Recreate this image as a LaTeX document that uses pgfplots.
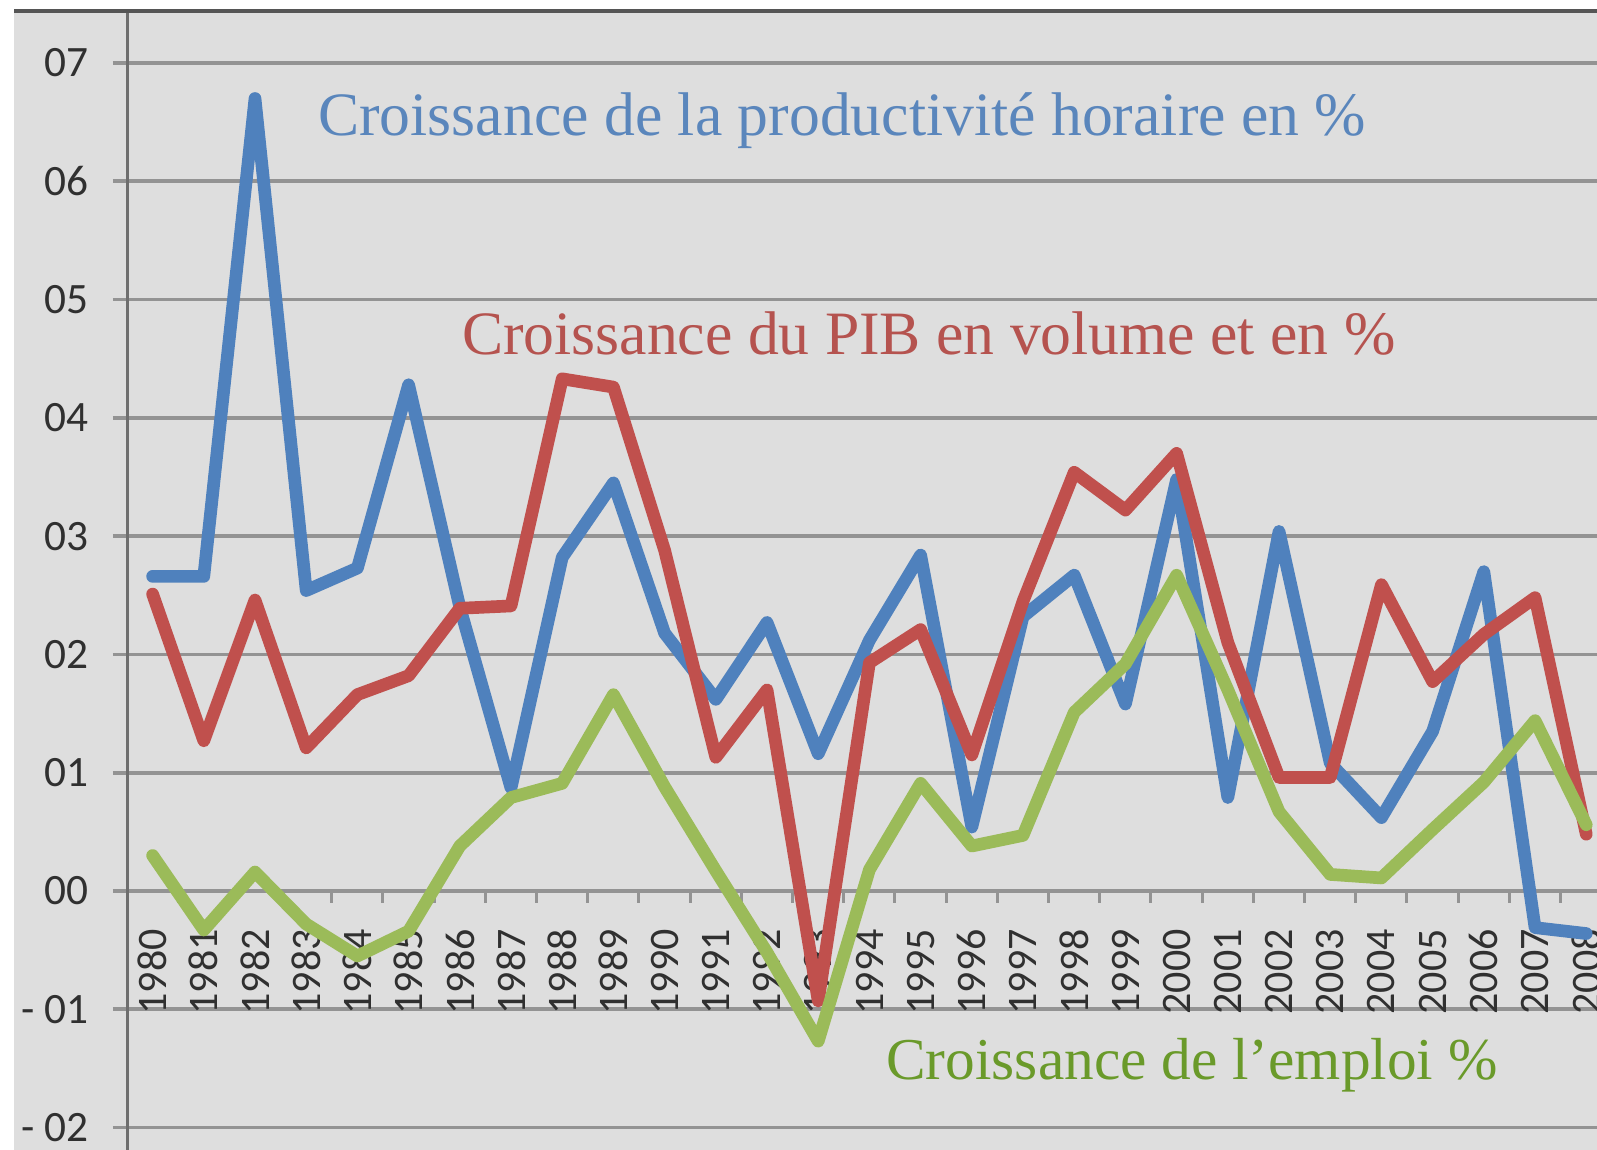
\documentclass[border=0pt]{standalone}
\usepackage{fontspec}
\setmainfont{Liberation Serif}
\newfontfamily\carlito{Carlito}
\usepackage{pgfplots}
\usepackage{pgfplotstable}
\pgfplotsset{compat=1.18}
\definecolor{cBlue}{HTML}{4F81BD}
\definecolor{cRed}{HTML}{C0504D}
\definecolor{cGreen}{HTML}{9BBB59}
\definecolor{tBlue}{HTML}{5A86BC}
\definecolor{tRed}{HTML}{B5534F}
\definecolor{tGreen}{HTML}{6A9A2A}
\definecolor{bg}{HTML}{DEDEDE}
\definecolor{gridc}{HTML}{939393}
\definecolor{axisc}{HTML}{6E6E6E}
\definecolor{topc}{HTML}{555555}
\definecolor{labc}{HTML}{303030}

\pgfplotstableread{
year prod pib emploi
1980 2.66 2.51 0.30
1981 2.66 1.27 -0.33
1982 6.70 2.46 0.16
1983 2.54 1.21 -0.28
1984 2.73 1.66 -0.55
1985 4.28 1.82 -0.34
1986 2.40 2.39 0.38
1987 0.87 2.41 0.79
1988 2.82 4.33 0.91
1989 3.45 4.26 1.66
1990 2.18 2.88 0.88
1991 1.62 1.13 0.17
1992 2.27 1.70 -0.52
1993 1.16 -0.93 -1.27
1994 2.12 1.93 0.18
1995 2.84 2.21 0.91
1996 0.54 1.15 0.38
1997 2.32 2.45 0.47
1998 2.67 3.54 1.51
1999 1.58 3.22 1.92
2000 3.48 3.70 2.67
2001 0.79 2.10 1.70
2002 3.04 0.96 0.67
2003 1.08 0.96 0.14
2004 0.62 2.59 0.11
2005 1.35 1.77 0.52
2006 2.70 2.17 0.92
2007 -0.31 2.48 1.44
2008 -0.36 0.48 0.56
}\data

\begin{document}
\begin{tikzpicture}
\path[use as bounding box] (0,0) rectangle (479.1pt,345pt);
\fill[white] (0,0) rectangle (479.1pt,345pt);
\fill[bg] (4.2pt,0) rectangle (479.1pt,341.7pt);
\begin{axis}[
  at={(38.1pt,0pt)}, anchor=south west,
  scale only axis, width=441pt, height=341.7pt,
  xmin=1979.5, xmax=2008.21, ymin=-2.19, ymax=7.44,
  axis x line*=middle, axis y line*=left,
  x axis line style={draw=gridc, line width=1.1pt, -},
  y axis line style={draw=axisc, line width=0.9pt, -},
  xtick={1980,1981,...,2008},
  xticklabels={1980,1981,1982,1983,1984,1985,1986,1987,1988,1989,1990,1991,1992,1993,1994,1995,1996,1997,1998,1999,2000,2001,2002,2003,2004,2005,2006,2007,2008},
  major x tick style={draw=none},
  minor xtick={1980.5,1981.5,...,2007.5},
  minor x tick style={draw=gridc, line width=0.9pt},
  minor tick length=3.6pt,
  ytick={-2,-1,...,7},
  yticklabels={- 02,- 01,00,01,02,03,04,05,06,07},
  ymajorgrids,
  major grid style={draw=gridc, line width=1.1pt},
  major y tick style={draw=gridc, line width=1.1pt},
  major tick length=4.2pt,
  tick align=outside,
  yticklabel style={font=\carlito\fontsize{13}{15}\selectfont, text=labc, inner sep=0pt, anchor=east},
  yticklabel shift=7.1pt,
  xticklabel style={font=\carlito\fontsize{12.6}{14}\selectfont, text=labc, rotate=90, anchor=east, inner sep=0pt},
  xticklabel shift=7.1pt,
]
\addplot[cBlue, line width=3.8pt, line join=round, line cap=round] table[x=year, y=prod] {\data};
\addplot[cRed, line width=3.8pt, line join=round, line cap=round] table[x=year, y=pib] {\data};
\addplot[cGreen, line width=3.8pt, line join=round, line cap=round] table[x=year, y=emploi] {\data};
\node[text=tBlue, font=\fontsize{18.5}{22}\selectfont] at (axis cs:1993.47,6.51) {Croissance de la productivité horaire en \%};
\node[text=tRed, font=\fontsize{18.5}{22}\selectfont] at (axis cs:1995.16,4.71) {Croissance du PIB en volume et en \%};
\node[text=tGreen, font=\fontsize{17.8}{21}\selectfont] at (axis cs:2000.3,-1.47) {Croissance de l’emploi \%};
\end{axis}
\draw[topc, line width=1pt] (4.2pt,341.7pt) -- (479.1pt,341.7pt);
\end{tikzpicture}
\end{document}
